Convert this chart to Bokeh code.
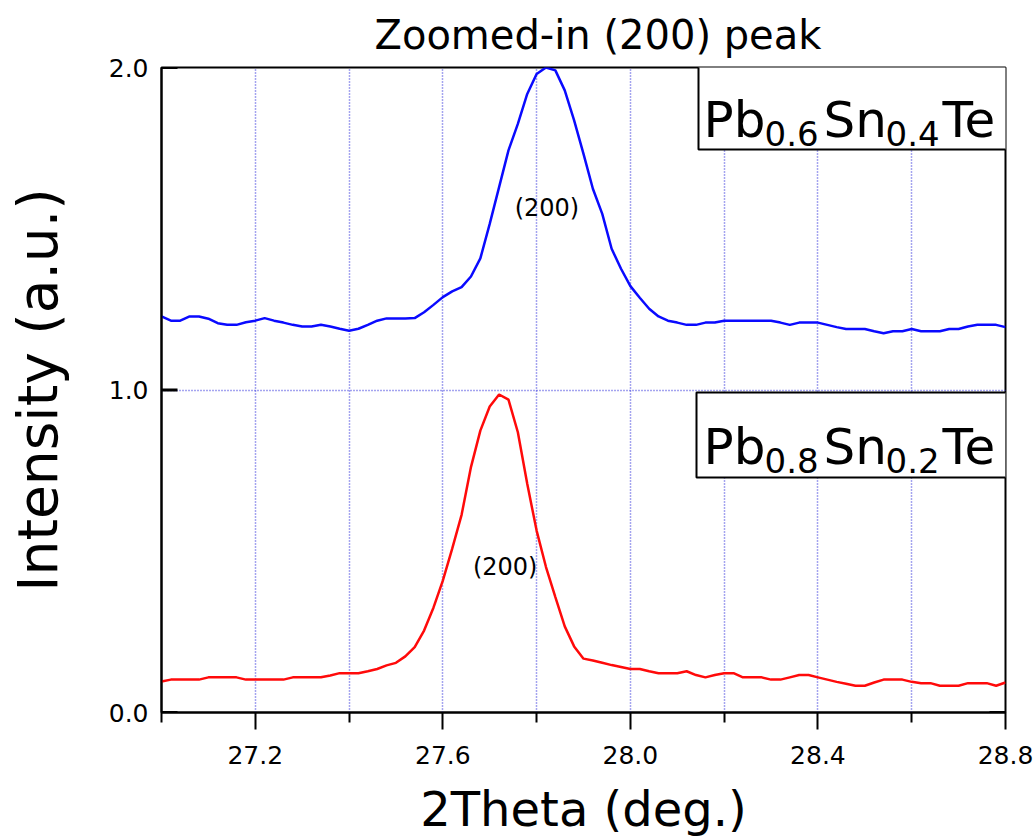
import numpy as np
from bokeh.plotting import figure
from bokeh.models import FixedTicker, PrintfTickFormatter, Range1d, ColumnDataSource
from bokeh.embed import file_html
from bokeh.resources import INLINE
from bokeh.core.properties import value

# ---- data -----------------------------------------------------------------
# 2Theta sampling grid (deg.), 0.02 deg steps
theta = np.round(np.linspace(27.0, 28.8, 91), 2)

# Pb0.6Sn0.4Te, (200) reflection (offset trace)
pb06_sn04 = [
    1.228, 1.215, 1.215, 1.228, 1.228, 1.221, 1.207, 1.202, 1.202, 1.210,
    1.215, 1.223, 1.215, 1.209, 1.202, 1.197, 1.197, 1.202, 1.197, 1.190,
    1.184, 1.190, 1.202, 1.215, 1.222, 1.222, 1.222, 1.223, 1.241, 1.264,
    1.288, 1.306, 1.319, 1.352, 1.408, 1.515, 1.629, 1.743, 1.825, 1.918,
    1.980, 2.000, 1.991, 1.929, 1.836, 1.732, 1.624, 1.546, 1.438, 1.376,
    1.322, 1.286, 1.252, 1.228, 1.215, 1.209, 1.202, 1.202, 1.209, 1.209,
    1.215, 1.215, 1.215, 1.215, 1.215, 1.215, 1.209, 1.202, 1.209, 1.209,
    1.209, 1.202, 1.195, 1.189, 1.189, 1.189, 1.182, 1.176, 1.182, 1.182,
    1.189, 1.182, 1.182, 1.182, 1.189, 1.189, 1.197, 1.202, 1.202, 1.202,
    1.195,
]

# Pb0.8Sn0.2Te, (200) reflection
pb08_sn02 = [
    0.096, 0.102, 0.102, 0.102, 0.102, 0.109, 0.109, 0.109, 0.109, 0.102,
    0.102, 0.102, 0.102, 0.102, 0.109, 0.109, 0.109, 0.109, 0.115, 0.122,
    0.122, 0.122, 0.128, 0.135, 0.146, 0.154, 0.174, 0.203, 0.254, 0.325,
    0.409, 0.508, 0.613, 0.761, 0.874, 0.949, 0.986, 0.970, 0.869, 0.709,
    0.564, 0.451, 0.358, 0.267, 0.205, 0.167, 0.161, 0.154, 0.147, 0.141,
    0.135, 0.135, 0.128, 0.122, 0.122, 0.122, 0.128, 0.116, 0.109, 0.116,
    0.122, 0.122, 0.109, 0.109, 0.109, 0.102, 0.102, 0.109, 0.116, 0.116,
    0.109, 0.102, 0.095, 0.089, 0.083, 0.083, 0.093, 0.102, 0.102, 0.102,
    0.095, 0.091, 0.091, 0.083, 0.083, 0.083, 0.091, 0.091, 0.091, 0.083,
    0.093,
]

x_major_ticks = [27.2, 27.6, 28.0, 28.4, 28.8]
x_minor_ticks = [27.0, 27.4, 27.8, 28.2, 28.6]
x_grid_lines = [27.2, 27.4, 27.6, 27.8, 28.0, 28.2, 28.4, 28.6]
y_ticks = [0.0, 1.0, 2.0]
y_grid_lines = [1.0]

peak_name = "(200)"
peak_label_x = [27.822, 27.733]
peak_label_y = [1.563, 0.450]

sample_top = [("Pb", "0.6", "Sn", "0.4", "Te")]
sample_bottom = [("Pb", "0.8", "Sn", "0.2", "Te")]

# ---- geometry ---------------------------------------------------------------
X0, X1 = 27.0, 28.8
Y0, Y1 = 0.0, 2.0
FRAME_LEFT, FRAME_TOP = 161, 67
FRAME_W, FRAME_H = 844, 645
FONT = "DejaVu Sans"
Y_TICK_LEN = 16   # inward tick length, px


def x_at(px):
    return X0 + (px - FRAME_LEFT) * (X1 - X0) / FRAME_W


def y_at(py):
    return Y1 - (py - FRAME_TOP) * (Y1 - Y0) / FRAME_H


p = figure(
    frame_width=FRAME_W, frame_height=FRAME_H,
    x_range=Range1d(X0, X1), y_range=Range1d(Y0, Y1),
    output_backend="svg", toolbar_location=None,
    min_border_left=FRAME_LEFT, min_border_right=1036 - FRAME_LEFT - FRAME_W,
    min_border_top=FRAME_TOP, min_border_bottom=837 - FRAME_TOP - FRAME_H,
    background_fill_color="white", border_fill_color="white",
    title="Zoomed-in (200) peak",
)

p.title.text_font = FONT
p.title.text_font_size = "40px"
p.title.text_font_style = "normal"
p.title.text_color = "black"
p.title.align = "left"
p.title.offset = 213
p.title.standoff = 19

p.outline_line_color = "black"
p.outline_line_width = 2
p.outline_line_alpha = 1.0

# grid: dotted blue guides
p.xgrid.ticker = FixedTicker(ticks=x_grid_lines)
p.ygrid.ticker = FixedTicker(ticks=y_grid_lines)
for g in (p.xgrid, p.ygrid):
    g.grid_line_color = "#4a4ae0"
    g.grid_line_dash = "1 2"
    g.grid_line_width = 1.5
    g.grid_line_alpha = 1.0

# x axis
xa = p.xaxis[0]
xa.ticker = FixedTicker(ticks=x_major_ticks, minor_ticks=x_minor_ticks)
xa.formatter = PrintfTickFormatter(format="%.1f")
xa.axis_label = "2Theta (deg.)"
xa.axis_label_text_font = FONT
xa.axis_label_text_font_size = "48px"
xa.axis_label_text_font_style = "normal"
xa.axis_label_text_color = "black"
xa.axis_label_standoff = 14
xa.major_label_text_font = FONT
xa.major_label_text_font_size = "25px"
xa.major_label_text_color = "black"
xa.major_label_standoff = 16
xa.major_tick_in = 0
xa.major_tick_out = 17
xa.minor_tick_in = 0
xa.minor_tick_out = 10
xa.major_tick_line_width = 2
xa.minor_tick_line_width = 2
xa.axis_line_width = 2
xa.major_tick_line_color = "black"
xa.minor_tick_line_color = "black"

# y axis
ya = p.yaxis[0]
ya.ticker = FixedTicker(ticks=y_ticks)
ya.formatter = PrintfTickFormatter(format="%.1f")
ya.axis_label = "Intensity (a.u.)"
ya.axis_label_text_font = FONT
ya.axis_label_text_font_size = "55px"
ya.axis_label_text_font_style = "normal"
ya.axis_label_text_color = "black"
ya.axis_label_standoff = 36
ya.major_label_text_font = FONT
ya.major_label_text_font_size = "25px"
ya.major_label_text_color = "black"
ya.major_label_standoff = 13
ya.major_tick_in = 0
ya.major_tick_out = 0
ya.minor_tick_in = 0
ya.minor_tick_out = 0
ya.axis_line_width = 2

# inward y ticks on the left edge, and the mirrored one at the bottom right
dx = (X1 - X0) / FRAME_W * Y_TICK_LEN
p.segment(x0=[X0] * len(y_ticks), x1=[X0 + dx] * len(y_ticks),
          y0=y_ticks, y1=y_ticks, line_color="black", line_width=3)
p.segment(x0=[X1 - dx], x1=[X1], y0=[y_ticks[0]], y1=[y_ticks[0]],
          line_color="black", line_width=3)

# traces
p.line(theta, pb06_sn04, line_color="#0a0aff", line_width=2.5)
p.line(theta, pb08_sn02, line_color="#ff0a0a", line_width=2.5)

# peak labels
p.text(x=peak_label_x, y=peak_label_y, text=[peak_name, peak_name],
       text_font=value(FONT), text_font_size="24px", text_color="black",
       text_align="center", text_baseline="middle")

# sample name boxes
boxes = ColumnDataSource(dict(
    left=[x_at(698), x_at(696)], right=[x_at(1008), x_at(1006)],
    top=[y_at(64), y_at(392)], bottom=[y_at(149), y_at(477)],
))
p.quad(left="left", right="right", top="top", bottom="bottom", source=boxes,
       fill_color="white", line_color="black", line_width=2)

name_x, name_y, name_txt, name_size = [], [], [], []
for parts, base in ((sample_top[0], 119), (sample_bottom[0], 446)):
    lefts = [703, 764, 823, 885, 942]
    for i, (txt, lx) in enumerate(zip(parts, lefts)):
        sub = i % 2 == 1
        name_x.append(x_at(lx))
        name_y.append(y_at(base + (14 if sub else 0)))
        name_txt.append(txt)
        name_size.append("34px" if sub else "50px")
names = ColumnDataSource(dict(x=name_x, y=name_y, text=name_txt, size=name_size))
p.text(x="x", y="y", text="text", source=names, text_font=value(FONT),
       text_font_size="size", text_color="black",
       text_align="left", text_baseline="alphabetic")

open("out.html", "w").write(file_html(p, INLINE))
